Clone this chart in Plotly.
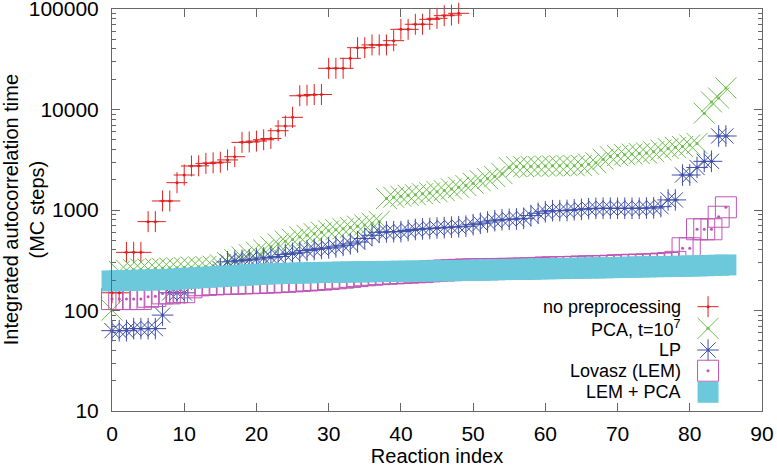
import plotly.graph_objects as go

# autocorrelation times, one value per reaction (reaction index = position in list)
no_prep = [150, 150, 379, 379, 379, 766, 766, 1230, 1230, 1870,
           2230, 2740, 2750, 2910, 2940, 2990, 3150, 3390, 4710, 4750,
           4850, 5000, 5150, 6150, 6850, 8360, 13700, 13900, 14100, 14100,
           25700, 25700, 25700, 32300, 41200, 41200, 43900, 43900, 43900, 48400,
           62800, 62800, 70500, 70500, 78900, 80800, 85800, 87000, 90600]

pca = [101, 245, 252, 255, 258, 258, 262, 263, 265, 266,
       268, 270, 272, 274, 276, 285, 300, 320, 340, 360,
       380, 400, 430, 460, 490, 510, 540, 560, 580, 600,
       620, 635, 650, 670, 690, 710, 740, 770, 1300, 1340,
       1370, 1400, 1420, 1450, 1480, 1520, 1560, 1620, 1680, 1750,
       1850, 1950, 2050, 2150, 2300, 2650, 2700, 2700, 2720, 2720,
       2740, 2750, 2750, 2760, 2760, 2780, 2850, 2950, 3200, 3400,
       3480, 3540, 3600, 3650, 3700, 3800, 3950, 4100, 4200, 4280,
       4440, 4600, 9200, 11900, 13000, 16400]

lp = [63, 63, 63, 66, 66, 66, 66, 90, 150, 150,
      150, 205, 210, 215, 225, 260, 305, 310, 315, 320,
      325, 333, 338, 345, 360, 370, 380, 395, 405, 415,
      420, 430, 445, 460, 480, 520, 560, 600, 605, 608,
      610, 625, 640, 648, 655, 662, 668, 675, 682, 690,
      715, 738, 760, 783, 800, 808, 815, 826, 880, 927,
      960, 985, 985, 990, 1005, 1016, 1030, 1040, 1040, 1040,
      1040, 1040, 1040, 1040, 1045, 1050, 1080, 1260, 1260, 2230,
      2230, 2650, 3050, 3050, 5450, 5450]

lem = [130, 130, 130, 130, 130, 137, 139, 148, 148, 152,
       152, 170, 178, 180, 182, 183, 184, 185, 186, 187,
       188, 189, 190, 192, 193, 195, 197, 199, 201, 203,
       206, 209, 212, 216, 220, 224, 227, 230, 232, 234,
       236, 238, 240, 242, 245, 248, 250, 252, 254, 256,
       257, 258, 258, 259, 259, 260, 261, 262, 263, 265,
       268, 269, 270, 271, 272, 274, 275, 276, 277, 279,
       282, 284, 285, 286, 288, 290, 293, 297, 305, 416,
       416, 643, 643, 643, 857, 1064]

lem_pca = [197, 198, 199, 200, 200, 201, 202, 203, 204, 206,
           208, 210, 212, 214, 216, 218, 220, 222, 224, 226,
           228, 230, 232, 233, 234, 235, 236, 237, 238, 239,
           240, 240, 241, 242, 242, 243, 243, 244, 245, 245,
           246, 246, 247, 247, 248, 248, 249, 249, 250, 251,
           252, 252, 253, 254, 255, 256, 257, 257, 258, 259,
           260, 261, 261, 262, 263, 264, 265, 265, 266, 267,
           268, 269, 270, 271, 272, 273, 273, 274, 275, 276,
           277, 278, 279, 281, 282, 284]

series = [no_prep, pca, lp, lem, lem_pca]
names = ["no preprocessing", "PCA, t=10<sup>7</sup>", "LP", "Lovasz (LEM)", "LEM + PCA"]
colors = ["#dd2020", "#6cbf4c", "#3f50aa", "#c055b5", "#6cc9db"]
symbols = ["cross-thin-open", "x-thin-open", "asterisk-open", "square-open", "square"]
sizes = [15, 21, 18, 21, 21]

y_ticks = [10, 100, 1000, 10000, 100000]
x_ticks = list(range(0, 100, 10))

font = "Liberation Sans, Arial, sans-serif"
axis_col = "#666666"

fig = go.Figure()

for vals, name, col, sym, sz in zip(series, names, colors, symbols, sizes):
    idx = list(range(len(vals)))
    if sym == "square":
        mk = dict(symbol=sym, size=sz, color=col, line=dict(width=0))
    else:
        mk = dict(symbol=sym, size=sz, color=col, line=dict(color=col, width=1))
    fig.add_trace(go.Scatter(x=idx, y=vals, mode="markers", marker=mk,
                             cliponaxis=False, showlegend=False, name=name))
    if sym != "square":
        fig.add_trace(go.Scatter(x=idx, y=vals, mode="markers",
                                 marker=dict(symbol="circle", size=3, color=col),
                                 cliponaxis=False, showlegend=False, hoverinfo="skip"))

# key in the lower right corner, symbols on the right of the text
key_x_sym = 0.917
key_x_txt = 0.879
key_rows = [0.2595, 0.2057, 0.1517, 0.1002, 0.0465]
for name, col, sym, sz, ky in zip(names, colors, symbols, sizes, key_rows):
    if sym == "square":
        mk = dict(symbol=sym, size=sz, color=col, line=dict(width=0))
    else:
        mk = dict(symbol=sym, size=sz, color=col, line=dict(color=col, width=1))
    fig.add_trace(go.Scatter(x=[key_x_sym], y=[ky], xaxis="x2", yaxis="y2",
                             mode="markers", marker=mk, showlegend=False,
                             cliponaxis=False, hoverinfo="skip"))
    if sym != "square":
        fig.add_trace(go.Scatter(x=[key_x_sym], y=[ky], xaxis="x2", yaxis="y2",
                                 mode="markers", marker=dict(size=3, color=col),
                                 showlegend=False, cliponaxis=False, hoverinfo="skip"))
    fig.add_annotation(x=key_x_txt, y=ky, xref="paper", yref="paper", text=name,
                       showarrow=False, xanchor="right", yanchor="middle",
                       font=dict(size=18, color="black", family=font))

fig.add_annotation(x=-0.135, y=0.5, xref="paper", yref="paper",
                   text="Integrated autocorrelation time<br>(MC steps)",
                   textangle=-90, showarrow=False, xanchor="center", yanchor="middle",
                   font=dict(size=20, color="black", family=font))

fig.update_layout(
    width=777, height=467,
    margin=dict(l=112, r=15, t=9, b=56),
    paper_bgcolor="white", plot_bgcolor="white",
    font=dict(family=font, size=20, color="black"),
    xaxis=dict(range=[0, 90], tickvals=x_ticks, ticks="inside", ticklen=8,
               tickcolor=axis_col, showline=True, linecolor=axis_col, linewidth=1,
               mirror="ticks", showgrid=False, zeroline=False, automargin=False,
               ticklabelstandoff=4, ticklabeloverflow="allow",
               tickfont=dict(size=21, family=font),
               title=dict(text="Reaction index", standoff=0,
                          font=dict(size=20, family=font))),
    yaxis=dict(type="log", range=[1, 5], tickvals=y_ticks,
               ticktext=[str(v) for v in y_ticks], ticks="inside", ticklen=8,
               tickcolor=axis_col, showline=True, linecolor=axis_col, linewidth=1,
               mirror="ticks", showgrid=False, zeroline=False, automargin=False,
               ticklabelstandoff=8, ticklabeloverflow="allow",
               tickfont=dict(size=21, family=font),
               minor=dict(dtick="D1", ticks="inside", ticklen=4,
                          tickcolor=axis_col, showgrid=False)),
    xaxis2=dict(overlaying="x", range=[0, 1], visible=False, anchor="y2"),
    yaxis2=dict(overlaying="y", range=[0, 1], visible=False, anchor="x2"),
)

# the page's default body margin would shift the figure by 8px
fig.write_html("out.html", config={"displayModeBar": False},
               post_script="document.body.style.margin = '0';")
